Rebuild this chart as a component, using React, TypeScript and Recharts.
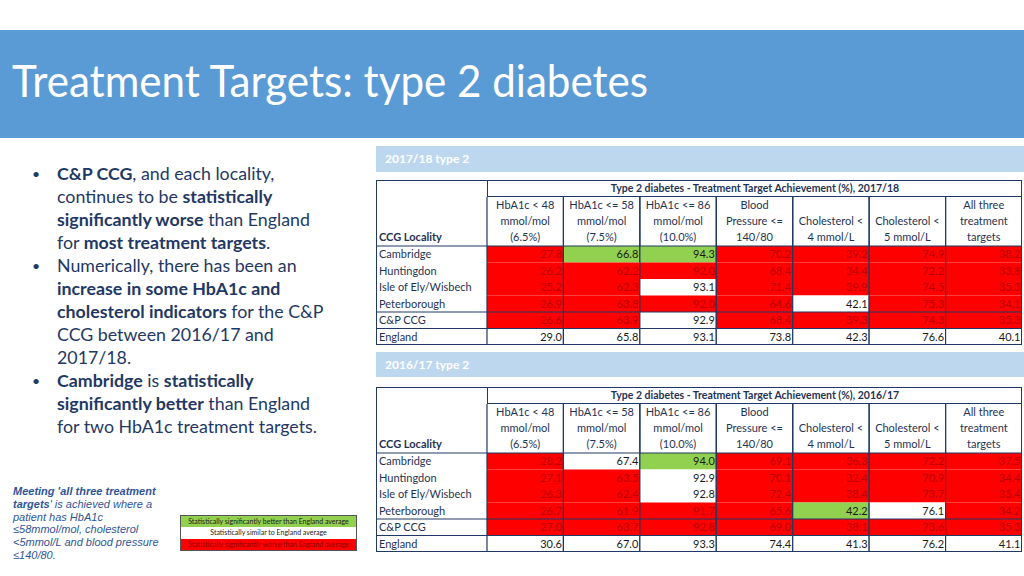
import React from 'react'
import { ScatterChart, Scatter, XAxis, YAxis } from 'recharts'

// rows / columns of both tables
const localities = ['Cambridge', 'Huntingdon', 'Isle of Ely/Wisbech', 'Peterborough', 'C&P CCG', 'England']
const indicators = ['hba48', 'hba58', 'hba86', 'bp', 'chol4', 'chol5', 'all3']
const indicatorLabels = [
  ['HbA1c < 48', 'mmol/mol', '(6.5%)'],
  ['HbA1c <= 58', 'mmol/mol', '(7.5%)'],
  ['HbA1c <= 86', 'mmol/mol', '(10.0%)'],
  ['Blood', 'Pressure <=', '140/80'],
  ['', 'Cholesterol <', '4 mmol/L'],
  ['', 'Cholesterol <', '5 mmol/L'],
  ['All three', 'treatment', 'targets'],
]

// G = better than England, W = similar, R = worse
const values1718 = [
  [27.8, 66.8, 94.3, 70.2, 39.2, 74.9, 38.2],
  [26.2, 62.2, 92.0, 68.4, 34.4, 72.2, 33.8],
  [25.2, 62.3, 93.1, 71.4, 39.9, 74.5, 35.3],
  [26.9, 63.8, 92.0, 64.6, 42.1, 75.3, 34.1],
  [26.6, 63.9, 92.9, 68.4, 39.3, 74.3, 35.3],
  [29.0, 65.8, 93.1, 73.8, 42.3, 76.6, 40.1],
]
const status1718 = ['RGGRRRR', 'RRRRRRR', 'RRWRRRR', 'RRRRWRR', 'RRWRRRR', 'WWWWWWW']

const values1617 = [
  [28.2, 67.4, 94.0, 69.1, 36.3, 72.2, 37.5],
  [27.1, 63.5, 92.9, 70.1, 32.4, 70.9, 34.4],
  [26.3, 62.4, 92.8, 72.4, 38.4, 73.7, 35.4],
  [26.7, 61.9, 91.7, 65.6, 42.2, 76.1, 34.2],
  [27.0, 63.7, 92.8, 69.0, 38.1, 73.6, 35.3],
  [30.6, 67.0, 93.3, 74.4, 41.3, 76.2, 41.1],
]
const status1617 = ['RWGRRRR', 'RRWRRRR', 'RRWRRRR', 'RRRRGWR', 'RRRRRRR', 'WWWWWWW']

const legendItems = [
  { status: 'G', label: 'Statistically significantly better than England average' },
  { status: 'W', label: 'Statistically similar to England average' },
  { status: 'R', label: 'Statistically significantly worse than England average' },
]

const FILL: Record<string, string> = { G: '#92d050', W: '#ffffff', R: '#ff0000' }
const TEXT: Record<string, string> = { G: '#1a1a1a', W: '#1a1a1a', R: '#b80000' }
const LINE = '#1f3864'
const INK = '#1f3354'
const FONT = 'Lato, "Open Sans", sans-serif'

const TABLE_W = 646
const LOC_W = 111
const TITLE_H = 17
const HEAD_H = 49
const BODY_H = 99
const COL_W = (TABLE_W - LOC_W) / indicators.length
const ROW_H = BODY_H / localities.length
const TOP_RULE = ['Cambridge', 'C&P CCG', 'England']

function buildCells(values: number[][], status: string[]) {
  return localities.flatMap((row, r) =>
    indicators.map((col, c) => ({ row, col, value: values[r][c], status: status[r][c] }))
  )
}

function CellShape(props: any) {
  const { cx, cy, payload } = props
  const x0 = cx - COL_W / 2
  const y0 = cy - ROW_H / 2
  return (
    <g>
      <rect x={x0} y={y0} width={COL_W} height={ROW_H} fill={FILL[payload.status]} />
      <text
        x={x0 + COL_W - 1.5}
        y={cy}
        dy="0.36em"
        textAnchor="end"
        fontSize={11}
        fontFamily={FONT}
        fill={TEXT[payload.status]}
      >
        {payload.value.toFixed(1)}
      </text>
      <line x1={x0} x2={x0} y1={y0} y2={y0 + ROW_H} stroke={LINE} strokeWidth={1.2} />
      <line x1={x0 + COL_W} x2={x0 + COL_W} y1={y0} y2={y0 + ROW_H} stroke={LINE} strokeWidth={1.2} />
      {TOP_RULE.includes(payload.row) && (
        <line x1={x0} x2={x0 + COL_W} y1={y0} y2={y0} stroke={LINE} strokeWidth={1.2} />
      )}
    </g>
  )
}

function HeaderTick(props: any) {
  const { x, payload } = props
  const lines = indicatorLabels[indicators.indexOf(payload.value)] || []
  return (
    <g>
      {lines.map((t, i) => (
        <text key={i} x={x} y={8 + i * 16} dy="0.36em" textAnchor="middle" fontSize={11} fontFamily={FONT} fill={INK}>
          {t}
        </text>
      ))}
      <line x1={x - COL_W / 2} x2={x - COL_W / 2} y1={0} y2={HEAD_H} stroke={LINE} strokeWidth={1.2} />
      <line x1={x + COL_W / 2} x2={x + COL_W / 2} y1={0} y2={HEAD_H} stroke={LINE} strokeWidth={1.2} />
    </g>
  )
}

function LocalityTick(props: any) {
  const { y, payload } = props
  return (
    <g>
      <text x={3} y={y} dy="0.36em" fontSize={11} fontFamily={FONT} fill={INK}>
        {payload.value}
      </text>
      {TOP_RULE.includes(payload.value) && (
        <line x1={0} x2={LOC_W} y1={y - ROW_H / 2} y2={y - ROW_H / 2} stroke={LINE} strokeWidth={1.2} />
      )}
    </g>
  )
}

function TargetTable({ top, year, values, status }: { top: number; year: string; values: number[][]; status: string[] }) {
  const cells = buildCells(values, status)
  return (
    <div style={{ position: 'absolute', left: 376, top, width: TABLE_W, height: TITLE_H + HEAD_H + BODY_H }}>
      <div style={{ position: 'absolute', left: 0, top: TITLE_H }}>
        <ScatterChart width={TABLE_W} height={HEAD_H + BODY_H} margin={{ top: 0, right: 0, bottom: 0, left: 0 }}>
          <XAxis
            type="category"
            dataKey="col"
            orientation="top"
            height={HEAD_H}
            allowDuplicatedCategory={false}
            axisLine={false}
            tickLine={false}
            interval={0}
            tick={<HeaderTick />}
          />
          <YAxis
            type="category"
            dataKey="row"
            width={LOC_W}
            reversed
            allowDuplicatedCategory={false}
            axisLine={false}
            tickLine={false}
            interval={0}
            tick={<LocalityTick />}
          />
          <Scatter data={cells} shape={(p: any) => <CellShape {...p} />} isAnimationActive={false} />
        </ScatterChart>
      </div>
      <div
        style={{
          position: 'absolute', left: LOC_W, top: 0, width: TABLE_W - LOC_W, height: TITLE_H,
          boxSizing: 'border-box', borderLeft: `1.2px solid ${LINE}`, borderBottom: `1.2px solid ${LINE}`,
          font: `bold 10.5px ${FONT}`, color: INK, textAlign: 'center', lineHeight: `${TITLE_H}px`,
        }}
      >
        Type 2 diabetes - Treatment Target Achievement (%), {year}
      </div>
      <div style={{ position: 'absolute', left: 3, top: 50, font: `bold 11px ${FONT}`, color: INK }}>CCG Locality</div>
      <div
        style={{
          position: 'absolute', left: 0, top: 0, right: 0, bottom: 0, boxSizing: 'border-box',
          border: `1.5px solid ${LINE}`, pointerEvents: 'none',
        }}
      />
    </div>
  )
}

function SectionBar({ top, height, label }: { top: number; height: number; label: string }) {
  return (
    <div
      style={{
        position: 'absolute', left: 376, top, width: 648, height, background: '#bdd7ee',
        color: '#ffffff', font: `bold 12px ${FONT}`, lineHeight: `${height}px`, paddingLeft: 9, boxSizing: 'border-box',
      }}
    >
      {label}
    </div>
  )
}

const bulletText: React.CSSProperties = { position: 'relative', paddingLeft: 26 }
const dot: React.CSSProperties = { position: 'absolute', left: 1, top: 0, fontSize: 14 }

export default function App() {
  return (
    <div style={{ position: 'absolute', left: 0, top: 0, width: 1024, height: 576, overflow: 'hidden', background: '#ffffff' }}>
      <div style={{ position: 'absolute', left: 0, top: 30, width: 1024, height: 108, background: '#5b9bd5' }}>
        <svg width={1024} height={108}>
          <text x={12} y={67} fontSize={44} fontFamily={FONT} fill="#ffffff" textLength={636} lengthAdjust="spacingAndGlyphs">
            Treatment Targets: type 2 diabetes
          </text>
        </svg>
      </div>

      <div style={{ position: 'absolute', left: 31, top: 162, font: `17.8px ${FONT}`, lineHeight: '23px', color: '#1f3864' }}>
        <div style={bulletText}>
          <span style={dot}>•</span>
          <b>C&amp;P CCG</b>, and each locality,<br />
          continues to be <b>statistically</b><br />
          <b>significantly worse</b> than England<br />
          for <b>most treatment targets</b>.
        </div>
        <div style={bulletText}>
          <span style={dot}>•</span>
          Numerically, there has been an<br />
          <b>increase in some HbA1c and</b><br />
          <b>cholesterol indicators</b> for the C&amp;P<br />
          CCG between 2016/17 and<br />
          2017/18.
        </div>
        <div style={bulletText}>
          <span style={dot}>•</span>
          <b>Cambridge</b> is <b>statistically</b><br />
          <b>significantly better</b> than England<br />
          for two HbA1c treatment targets.
        </div>
      </div>

      <div
        style={{
          position: 'absolute', left: 13, top: 485, fontFamily: '"Liberation Sans", Arial, sans-serif',
          fontStyle: 'italic', fontSize: 11, lineHeight: '12.8px', color: '#2f5597',
        }}
      >
        <b>Meeting 'all three treatment</b><br />
        <b>targets</b>' is achieved where a<br />
        patient has HbA1c<br />
        ≤58mmol/mol, cholesterol<br />
        &lt;5mmol/L and blood pressure<br />
        ≤140/80.
      </div>

      <div style={{ position: 'absolute', left: 180, top: 515, width: 175, border: '1px solid #555555' }}>
        {legendItems.map((item) => (
          <div
            key={item.status}
            style={{
              height: 11.3, background: FILL[item.status], color: item.status === 'R' ? '#8b0000' : '#1a1a1a',
              font: `7px ${FONT}`, lineHeight: '11.3px', textAlign: 'center', whiteSpace: 'nowrap',
            }}
          >
            {item.label}
          </div>
        ))}
      </div>

      <SectionBar top={146} height={26} label="2017/18 type 2" />
      <TargetTable top={180} year="2017/18" values={values1718} status={status1718} />

      <SectionBar top={352} height={25} label="2016/17 type 2" />
      <TargetTable top={387} year="2016/17" values={values1617} status={status1617} />
    </div>
  )
}
